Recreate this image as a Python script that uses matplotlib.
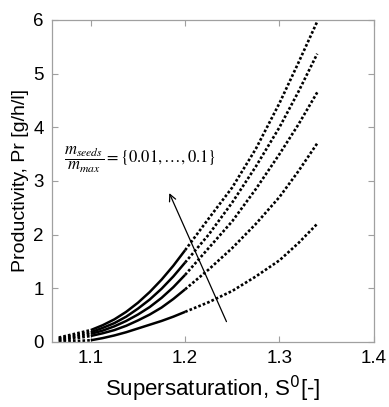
import matplotlib.pyplot as plt
import numpy as np

plt.rcParams['font.family'] = ['Liberation Sans', 'DejaVu Sans']

# solid part (S up to 1.2)
s_solid = [1.10, 1.1125, 1.125, 1.1375, 1.15, 1.1625, 1.175, 1.1875, 1.20]
sol_1 = [0.22, 0.31, 0.42, 0.56, 0.73, 0.93, 1.16, 1.42, 1.71]
sol_2 = [0.18, 0.26, 0.35, 0.47, 0.62, 0.79, 0.99, 1.22, 1.48]
sol_3 = [0.15, 0.21, 0.29, 0.39, 0.51, 0.65, 0.82, 1.02, 1.25]
sol_4 = [0.11, 0.16, 0.22, 0.30, 0.40, 0.51, 0.64, 0.80, 0.98]
sol_5 = [0.03, 0.07, 0.12, 0.18, 0.25, 0.32, 0.39, 0.47, 0.56]

# dotted part (S from 1.2 on)
s_dot = [1.20, 1.225, 1.25, 1.275, 1.30, 1.32, 1.34]
dot_1 = [1.71, 2.30, 2.88, 3.60, 4.45, 5.20, 5.97]
dot_2 = [1.48, 2.00, 2.60, 3.27, 4.00, 4.66, 5.37]
dot_3 = [1.25, 1.75, 2.25, 2.85, 3.50, 4.05, 4.65]
dot_4 = [0.98, 1.35, 1.75, 2.20, 2.70, 3.18, 3.70]
dot_5 = [0.56, 0.74, 0.95, 1.22, 1.52, 1.84, 2.20]

# low-supersaturation start of each curve (dotted)
s_pre = [1.066, 1.10]
pre_1 = [0.08, 0.22]
pre_2 = [0.06, 0.18]
pre_3 = [0.04, 0.15]
pre_4 = [0.02, 0.11]
pre_5 = [0.0, 0.03]

solids = [sol_1, sol_2, sol_3, sol_4, sol_5]
dots = [dot_1, dot_2, dot_3, dot_4, dot_5]
pres = [pre_1, pre_2, pre_3, pre_4, pre_5]

fig = plt.figure(figsize=(3.89, 4.07), dpi=100)
ax = fig.add_axes([0.134, 0.160, 0.827, 0.791])

dot = (0, (1, 0.8))
for sol, dt, pre in zip(solids, dots, pres):
    ax.plot(s_pre, pre, color='black', lw=1.9, linestyle=dot,
            dash_capstyle='butt')
    ax.plot(s_solid, sol, color='black', lw=1.8, solid_capstyle='butt')
    ax.plot(s_dot, dt, color='black', lw=1.9, linestyle=dot,
            dash_capstyle='butt')

ax.annotate('', xy=(1.182, 2.82), xytext=(1.245, 0.33),
            arrowprops=dict(arrowstyle='->', color='black', lw=0.9,
                            mutation_scale=12))
ax.text(1.072, 3.39, r'$\dfrac{m_{seeds}}{m_{max}} = \{0.01,\ldots,0.1\}$',
        fontsize=12, va='center', ha='left', math_fontfamily='stix')

ax.set_xlim(1.059, 1.4)
ax.set_ylim(0, 6)
ax.set_xticks([1.1, 1.2, 1.3, 1.4])
ax.set_yticks([0, 1, 2, 3, 4, 5, 6])
ax.set_xticklabels(['1.1', '1.2', '1.3', '1.4'])
ax.tick_params(direction='in', length=4, width=0.8, color='#a0a0a0',
               labelsize=13.5, top=True, right=True, pad=6)
for sp in ax.spines.values():
    sp.set_color('#a0a0a0')
    sp.set_linewidth(0.9)

ax.set_xlabel('Supersaturation, S$^{0}$[-]', fontsize=16, labelpad=5,
              math_fontfamily='dejavusans')
ax.set_ylabel('Productivity, Pr [g/h/l]', fontsize=14, labelpad=3)

fig.savefig('out.png', dpi=100)
